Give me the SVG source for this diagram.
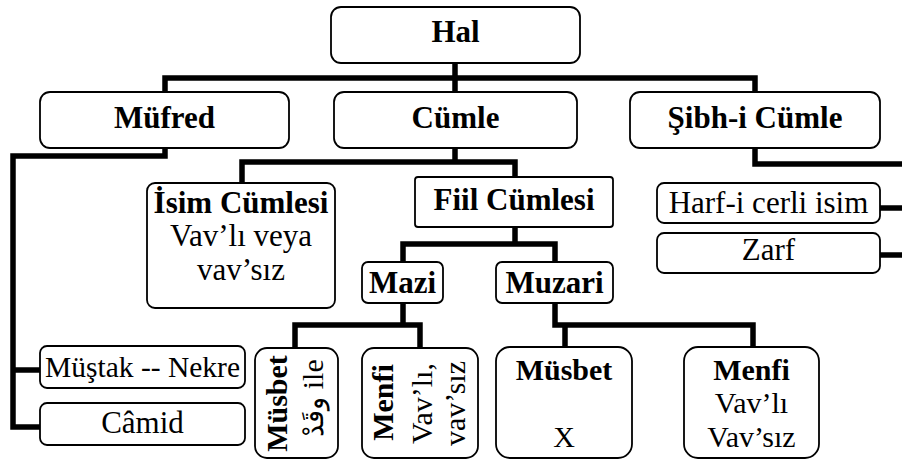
<svg xmlns="http://www.w3.org/2000/svg" width="902" height="461" viewBox="0 0 902 461">
<style>
.box{fill:#fff;stroke:#000;stroke-width:1.8}
.b{font-family:"Liberation Serif","Times New Roman",serif;font-weight:bold;font-size:31px;fill:#000;text-anchor:middle}
.r{font-family:"Liberation Serif","Times New Roman",serif;font-size:31px;fill:#000;text-anchor:middle}
.c{fill:none;stroke:#000;stroke-width:5.5;stroke-linejoin:miter;stroke-linecap:square}
</style>
<rect width="902" height="461" fill="#fff"/>
<g id="connectors">
<path class="c" d="M455,63 V92 M165,92 V78 H755 V92"/>
<path class="c" d="M165,148 V156 H13 V427 H40 M13,370 H40"/>
<path class="c" d="M455,148 V162 M242,183 V162 H515 V177"/>
<path class="c" d="M515,227 V244 M403,262 V244 H555 V262"/>
<path class="c" d="M403,303 V325 M295,348 V325 H420 V348"/>
<path class="c" d="M555,303 V325 H753 V347 M565,325 V347"/>
<path class="c" d="M755,148 V164 H905"/>
<path class="c" d="M880,208 H905 M880,255 H905"/>
</g>
<g id="hal"><rect class="box" x="331" y="7" width="249" height="56" rx="10"/><text class="b" x="455.5" y="42">Hal</text></g>
<g id="mufred"><rect class="box" x="40" y="92" width="249" height="56" rx="10"/><text class="b" x="164.5" y="128">Müfred</text></g>
<g id="cumle"><rect class="box" x="334" y="92" width="243" height="56" rx="10"/><text class="b" x="455.5" y="128">Cümle</text></g>
<g id="sibh"><rect class="box" x="630" y="92" width="250" height="56" rx="10"/><text class="b" x="755" y="128">Şibh-i Cümle</text></g>
<g id="isim"><rect class="box" x="147" y="183" width="188" height="125" rx="8"/><text class="b" x="241" y="213">İsim Cümlesi</text><text class="r" x="241" y="246">Vav’lı veya</text><text class="r" x="241" y="280">vav’sız</text></g>
<g id="fiil"><rect class="box" x="415" y="177" width="198" height="50" rx="3"/><text class="b" x="514" y="210">Fiil Cümlesi</text></g>
<g id="mazi"><rect class="box" x="362" y="262" width="81" height="41" rx="6"/><text class="b" x="402.5" y="293">Mazi</text></g>
<g id="muzari"><rect class="box" x="496" y="262" width="117" height="41" rx="6"/><text class="b" x="554.5" y="293">Muzari</text></g>
<g id="harf"><rect class="box" x="657" y="183" width="223" height="40" rx="7"/><text class="r" x="768.5" y="213">Harf-i cerli isim</text></g>
<g id="zarf"><rect class="box" x="657" y="233" width="223" height="40" rx="7"/><text class="r" x="768.5" y="260">Zarf</text></g>
<g id="mustak"><rect class="box" x="40" y="346" width="205" height="42" rx="7"/><text class="r" x="142.5" y="377" style="font-size:29.5px">Müştak -- Nekre</text></g>
<g id="camid"><rect class="box" x="40" y="403" width="205" height="42" rx="7"/><text class="r" x="142.5" y="433">Câmid</text></g>
<g id="mazi-musbet"><rect class="box" x="255" y="348" width="83" height="110" rx="12"/>
<text class="b" transform="translate(287,403.5) rotate(-90)" style="font-size:30px">Müsbet</text>
<text class="r" transform="translate(323,398) rotate(-90)" style="font-size:30px"><tspan style="font-size:27px">وقَدْ</tspan> ile</text></g>
<g id="mazi-menfi"><rect class="box" x="362" y="348" width="116" height="110" rx="12"/>
<text class="b" transform="translate(393,402.5) rotate(-90)" style="font-size:30px">Menfi</text>
<text class="r" transform="translate(432,403.5) rotate(-90)" style="font-size:30px">Vav’lı,</text>
<text class="r" transform="translate(465,403.5) rotate(-90)" style="font-size:30px">vav’sız</text></g>
<g id="muzari-musbet"><rect class="box" x="496" y="347" width="136" height="111" rx="14"/><text class="b" x="564" y="380" style="font-size:30px">Müsbet</text><text class="r" x="564" y="447" style="font-size:30px">X</text></g>
<g id="muzari-menfi"><rect class="box" x="684" y="347" width="135" height="111" rx="14"/><text class="b" x="751.5" y="380" style="font-size:30px">Menfi</text><text class="r" x="751.5" y="413" style="font-size:30px">Vav’lı</text><text class="r" x="751.5" y="447" style="font-size:30px">Vav’sız</text></g>
</svg>
